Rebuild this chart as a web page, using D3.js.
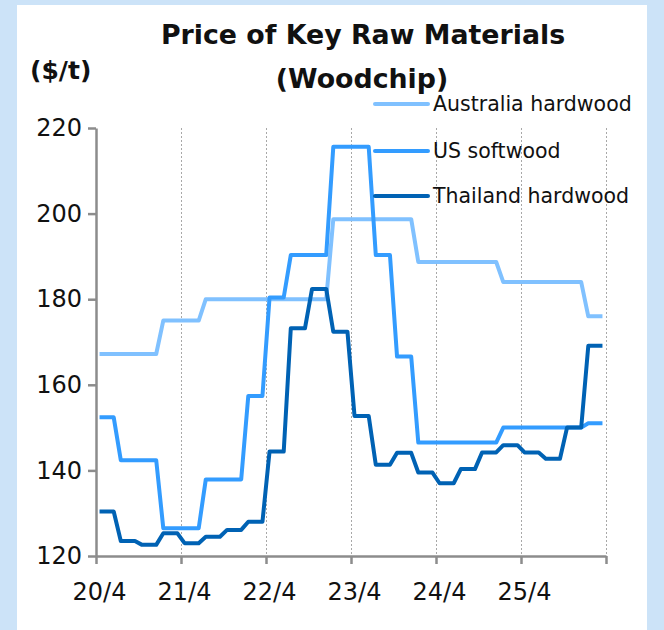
<!DOCTYPE html>
<html>
<head>
<meta charset="utf-8">
<script src="https://cdn.jsdelivr.net/npm/d3@7/dist/d3.min.js"></script>
<style>
  html, body { margin: 0; padding: 0; background: #cce3f8; }
  svg { display: block; }
  text { font-family: "DejaVu Sans", Verdana, sans-serif; fill: #111; }
</style>
</head>
<body>
<svg id="chart" width="664" height="630"></svg>
<script>
// Monthly categories from 2020/4 to 2026/3
const months = [];
for (let k = 0; k < 72; k++) {
  const m = (3 + k) % 12 + 1;
  const y = 20 + Math.floor((3 + k) / 12);
  months.push(y + "/" + m);
}

const xTickLabels = ["20/4", "21/4", "22/4", "23/4", "24/4", "25/4"];
const yTicks = [120, 140, 160, 180, 200, 220];

const seriesNames = ["Australia hardwood", "US softwood", "Thailand hardwood"];
const seriesColors = ["#80c1ff", "#339cff", "#0062b4"];

// Woodchip prices, $/t, one value per month
const australiaHardwood = [
  167.2, 167.2, 167.2, 167.2, 167.2, 167.2, 167.2, 167.2, 167.2,
  175, 175, 175, 175, 175, 175,
  180, 180, 180, 180, 180, 180, 180, 180, 180, 180, 180, 180, 180, 180, 180, 180, 180, 180,
  198.7, 198.7, 198.7, 198.7, 198.7, 198.7, 198.7, 198.7, 198.7, 198.7, 198.7, 198.7,
  188.7, 188.7, 188.7, 188.7, 188.7, 188.7, 188.7, 188.7, 188.7, 188.7, 188.7, 188.7,
  184, 184, 184, 184, 184, 184, 184, 184, 184, 184, 184, 184,
  176, 176, 176
];
const usSoftwood = [
  152.4, 152.4, 152.4,
  142.4, 142.4, 142.4, 142.4, 142.4, 142.4,
  126.5, 126.5, 126.5, 126.5, 126.5, 126.5,
  137.9, 137.9, 137.9, 137.9, 137.9, 137.9,
  157.4, 157.4, 157.4,
  180.4, 180.4, 180.4,
  190.3, 190.3, 190.3, 190.3, 190.3, 190.3,
  215.6, 215.6, 215.6, 215.6, 215.6, 215.6,
  190.3, 190.3, 190.3,
  166.6, 166.6, 166.6,
  146.5, 146.5, 146.5, 146.5, 146.5, 146.5, 146.5, 146.5, 146.5, 146.5, 146.5, 146.5,
  150, 150, 150, 150, 150, 150, 150, 150, 150, 150, 150, 150,
  151, 151, 151
];
const thailandHardwood = [
  130.4, 130.4, 130.4,
  123.5, 123.5, 123.5,
  122.6, 122.6, 122.6,
  125.3, 125.3, 125.3,
  123.0, 123.0, 123.0,
  124.5, 124.5, 124.5,
  126.1, 126.1, 126.1,
  128.0, 128.0, 128.0,
  144.4, 144.4, 144.4,
  173.2, 173.2, 173.2,
  182.4, 182.4, 182.4,
  172.4, 172.4, 172.4,
  152.7, 152.7, 152.7,
  141.3, 141.3, 141.3,
  144.1, 144.1, 144.1,
  139.5, 139.5, 139.5,
  137.0, 137.0, 137.0,
  140.3, 140.3, 140.3,
  144.2, 144.2, 144.2,
  145.9, 145.9, 145.9,
  144.2, 144.2, 144.2,
  142.7, 142.7, 142.7,
  150.0, 150.0, 150.0,
  169.1, 169.1, 169.1
];
const seriesValues = [australiaHardwood, usSoftwood, thailandHardwood];

const svg = d3.select("#chart");

// white card
svg.append("rect").attr("x", 17).attr("y", 5).attr("width", 630).attr("height", 625).attr("fill", "#fff");

const plot = { left: 96, right: 606, top: 128, bottom: 556 };

const x = d3.scaleBand().domain(months).range([plot.left, plot.right]).padding(0);
const xc = m => x(m) + x.bandwidth() / 2;
const xi = d3.scaleLinear().domain([0, months.length]).range([plot.left, plot.right]);
const y = d3.scaleLinear().domain([120, 220]).range([plot.bottom, plot.top]);

// vertical dotted gridlines at each April boundary
const yearBounds = d3.range(12, months.length + 1, 12);
svg.append("g").selectAll("line").data(yearBounds).join("line")
  .attr("x1", d => xi(d) + 0.5).attr("x2", d => xi(d) + 0.5)
  .attr("y1", plot.top).attr("y2", plot.bottom)
  .attr("stroke", "#a8a8a8").attr("stroke-width", 1).attr("stroke-dasharray", "2,2");

// y axis
const yAxis = svg.append("g").attr("transform", `translate(${plot.left},0)`)
  .call(d3.axisLeft(y).tickValues(yTicks).tickSize(8).tickPadding(6).tickSizeOuter(0));
yAxis.select(".domain").attr("stroke", "#8c8c8c").attr("stroke-width", 2.5);
yAxis.selectAll(".tick line").attr("stroke", "#8c8c8c").attr("stroke-width", 2.5);
yAxis.selectAll(".tick text").style("font-size", "24px").attr("fill", "#111")
  .style("font-family", '"DejaVu Sans", Verdana, sans-serif');

// x axis: ticks on year boundaries, labels on the April category
const xAxis = svg.append("g").attr("transform", `translate(0,${plot.bottom})`)
  .call(d3.axisBottom(xi).tickValues(d3.range(0, months.length + 1, 12)).tickSize(8).tickFormat("").tickSizeOuter(0));
xAxis.select(".domain").attr("stroke", "#8c8c8c").attr("stroke-width", 2.5);
xAxis.selectAll(".tick line").attr("stroke", "#8c8c8c").attr("stroke-width", 2.5);

svg.append("g").selectAll("text").data(xTickLabels).join("text")
  .attr("x", d => xc(d)).attr("y", 600)
  .attr("text-anchor", "middle").style("font-size", "24px").text(d => d);

// series lines
const line = d3.line().x((d, i) => xc(months[i])).y(d => y(d));
svg.append("g").selectAll("path").data(seriesValues).join("path")
  .attr("d", d => line(d))
  .attr("fill", "none")
  .attr("stroke", (d, i) => seriesColors[i])
  .attr("stroke-width", 4)
  .attr("stroke-linejoin", "round");

// legend
const legendY = [104, 151, 196];
const lg = svg.append("g").selectAll("g").data(seriesNames).join("g")
  .attr("transform", (d, i) => `translate(0,${legendY[i]})`);
lg.append("line").attr("x1", 375).attr("x2", 428).attr("y1", 0).attr("y2", 0)
  .attr("stroke", (d, i) => seriesColors[i]).attr("stroke-width", 4).attr("stroke-linecap", "round");
lg.append("text").attr("x", 433).attr("y", 0).attr("dy", "0.36em")
  .style("font-size", "20.5px").text(d => d);

// titles
svg.append("text").attr("x", 363).attr("y", 44).attr("text-anchor", "middle")
  .style("font-size", "26.8px").style("font-weight", "bold").text("Price of Key Raw Materials");
svg.append("text").attr("x", 362).attr("y", 88).attr("text-anchor", "middle")
  .style("font-size", "26.8px").style("font-weight", "bold").text("(Woodchip)");
svg.append("text").attr("x", 30).attr("y", 79)
  .style("font-size", "25px").style("font-weight", "bold").text("($/t)");
</script>
</body>
</html>
